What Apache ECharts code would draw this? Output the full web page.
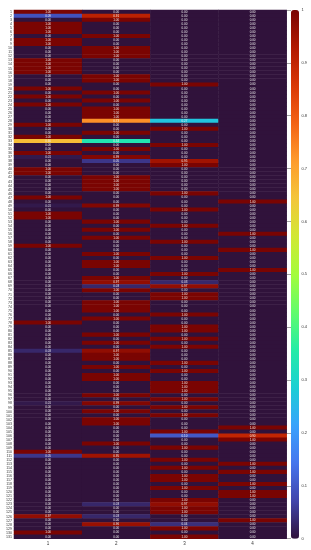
<!DOCTYPE html>
<html><head><meta charset="utf-8">
<script src="https://cdn.jsdelivr.net/npm/echarts@6/dist/echarts.min.js"></script>
<style>html,body{margin:0;padding:0;background:#fff}#c{width:311px;height:550px}</style>
</head><body><div id="c"></div>
<script>
const colLabels = ['1','2','3','4'];
const rowLabels = ['1','2','3','4','5','6','7','8','9','10','11','12','13','14','15','16','17','18','19','20','21','22','23','24','25','26','27','28','29','30','31','32','33','34','35','36','37','38','39','40','41','42','43','44','45','46','47','48','49','50','51','52','53','54','55','56','57','58','59','60','61','62','63','64','65','66','67','68','69','70','71','72','73','74','75','76','77','78','79','80','81','82','83','84','85','86','87','88','89','90','91','92','93','94','95','96','97','98','99','100','101','102','103','104','105','106','107','108','109','110','111','112','113','114','115','116','117','118','119','120','121','122','123','124','125','126','127','128','129','130','131'];
const col1 = [1,.09,0,1,1,1,0,1,1,0, 0,0,1,1,1,1,0,0,0,1, 0,1,0,1,0,0,0,0,1,0, 0,1,.66,0,0,1,.01,0,0,1, 1,0,0,0,0,0,1,0,.01,0, 1,1,0,0,0,0,0,0,1,0, 0,0,0,0,0,0,0,0,0,0, 0,0,0,0,0,0,0,1,0,0, 0,0,0,0,.03,0,0,0,0,0, 0,0,0,0,0,0,0,.01,0,0, 0,0,0,0,0,0,0,0,0,1, .05,0,0,0,0,0,0,0,0,0, 0,0,0,0,0,.97,0,0,0,1, 0];
const col2 = [0,.91,1,0,0,0,1,0,0,1, 1,1,0,0,0,0,1,1,0,0, 1,0,1,0,1,1,1,.73,0,0, 1,0,.34,0,1,0,.99,.05,0,0, 0,1,1,1,1,0,0,0,.99,0, 0,0,1,0,1,0,1,0,0,0, 1,0,1,1,0,0,1,.97,.03,1, 0,0,1,1,1,0,1,0,0,0, 1,0,1,0,.97,1,1,0,1,0, 1,1,0,0,0,1,0,.99,0,1, 0,1,1,0,0,0,0,1,0,0, .95,0,0,0,0,0,0,0,0,0, 0,0,.03,0,0,.03,0,.96,0,0, 0];
const col3 = [0,0,0,0,0,0,0,0,0,0, 0,0,0,0,0,0,0,0,1,0, 0,0,0,0,0,0,0,.27,0,1, 0,0,0,1,0,0,0,.95,1,0, 0,0,0,0,0,1,0,0,0,1, 0,0,0,1,0,0,0,1,0,0, 0,1,0,0,0,1,0,.03,.97,0, 1,1,0,0,0,1,0,0,1,1, 0,1,0,1,0,0,0,1,0,1, 0,0,1,1,1,0,1,0,1,0, 1,0,0,0,1,.1,0,0,1,0, 0,1,0,1,0,1,1,0,1,0, 0,1,.97,1,1,0,0,.04,1,0, 1];
const col4 = [0,0,0,0,0,0,0,0,0,0, 0,0,0,0,0,0,0,0,0,0, 0,0,0,0,0,0,0,0,0,0, 0,0,0,0,0,0,0,0,0,0, 0,0,0,0,0,0,0,1,0,0, 0,0,0,0,0,1,0,0,0,1, 0,0,0,0,1,0,0,0,0,0, 0,0,0,0,0,0,0,0,0,0, 0,0,0,0,0,0,0,0,0,0, 0,0,0,0,0,0,0,0,0,0, 0,0,0,1,0,.9,1,0,0,0, 0,0,1,0,1,0,0,1,0,1, 1,0,0,0,0,0,1,0,0,0, 0];
const barTicks = [0,0.1,0.2,0.3,0.4,0.5,0.6,0.7,0.8,0.9,1];

const turboStops = ['#30123b','#4145ab','#4675ed','#39a2fc','#1bcfd4','#24eca6','#61fc6c','#a4fc3b','#d1e834','#f3c63a','#fe9b2d','#f36315','#d93806','#b11901','#7a0402'];

const cols=[col1,col2,col3,col4];
const data=[];
cols.forEach((arr,x)=>arr.forEach((v,y)=>data.push([x,y,v])));

const FONT='Liberation Sans, Arial, sans-serif';
const chart=echarts.init(document.getElementById('c'),null,{renderer:'canvas'});
chart.setOption({
  animation:false,
  backgroundColor:'#fff',
  grid:[{left:14,top:10,width:272.7,height:528.7},{left:291,top:10,width:8,height:528.7}],
  xAxis:[{type:'category',data:colLabels,gridIndex:0,position:'bottom',axisLine:{show:false},axisTick:{show:false},splitLine:{show:false},
    axisLabel:{fontSize:4.5,color:'#333',margin:2.5,fontFamily:FONT}},
    {type:'value',gridIndex:1,show:false,min:0,max:1}],
  yAxis:[{type:'category',data:rowLabels,gridIndex:0,inverse:true,axisLine:{show:false},axisTick:{show:false},splitLine:{show:false},
    axisLabel:{interval:0,fontSize:3.6,color:'#333',margin:2,fontFamily:FONT}},
    {type:'value',gridIndex:1,min:barTicks[0],max:barTicks[barTicks.length-1],interval:0.1,position:'right',
     axisLine:{show:false},splitLine:{show:false},axisTick:{show:true,inside:true,length:4,lineStyle:{color:'#444',width:0.5}},
     axisLabel:{fontSize:4,color:'#333',margin:2.5,fontFamily:FONT}}],
  visualMap:{type:'continuous',min:0,max:1,calculable:false,show:true,orient:'vertical',left:291,top:10,padding:0,
    itemWidth:8,itemHeight:528.7,text:null,showLabel:false,inRange:{color:turboStops},seriesIndex:0,hoverLink:false},
  series:[{type:'heatmap',xAxisIndex:0,yAxisIndex:0,data:data,
    label:{show:true,formatter:p=>p.value[2].toFixed(2),fontSize:3,color:'#eee',fontFamily:FONT},
    itemStyle:{borderWidth:0},emphasis:{disabled:true}}]
});
</script></body></html>
